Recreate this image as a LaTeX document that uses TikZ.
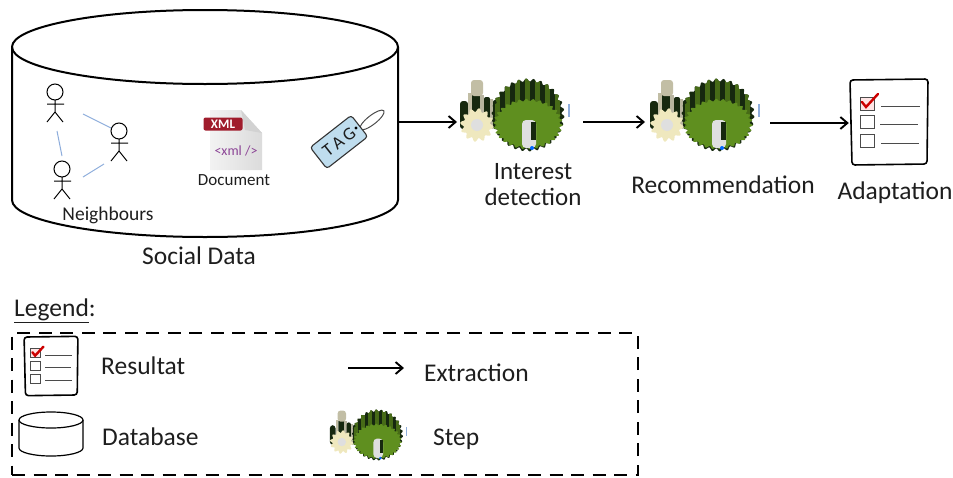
\documentclass[tikz,border=0pt]{standalone}
\usepackage{fontspec}
\usetikzlibrary{arrows.meta}
\setmainfont{Carlito}
\definecolor{ink}{HTML}{1E1E1E}
\definecolor{gearleaf}{HTML}{5F8F1F}
\definecolor{geardark}{HTML}{16280F}
\definecolor{gearbeige}{HTML}{EFE8BE}
\definecolor{badge}{HTML}{A01C2C}
\definecolor{tagblue}{HTML}{BFDDEE}
\definecolor{linkblue}{HTML}{8FAEDC}
\tikzset{
  lbl/.style={font=\fontsize{25.5}{28}\selectfont,text=ink,inner sep=0pt},
  legendlbl/.style={lbl,anchor=west},
  smalllbl/.style={font=\fontsize{19.5}{22}\selectfont,text=ink,inner sep=0pt},
  flow/.style={draw=black,line width=1.9pt,-{Straight Barb[length=7pt,width=12pt,line width=1.9pt]}},
  dbline/.style={draw=black,line width=2pt},
  anchorbox/.style={inner sep=0pt,minimum width=#1,draw=none},
  link/.style={draw=linkblue,line width=1pt},
  person/.style={draw=black,line width=1pt},
  pics/checklist/.style={code={
    \draw[black,line width=1.6pt,rounded corners=3pt,fill=white] (-39,-42) -- (39,-43) -- (38,42) -- (-37,43) -- cycle;
    \draw[line width=1pt,draw=ink!80,fill=red!10] (-29,-25) rectangle (-15,-12);
    \draw[line width=1pt,draw=ink!80] (-29,-7) rectangle (-15,6);
    \draw[line width=1pt,draw=ink!80] (-29,12) rectangle (-15,25);
    \draw[line width=.8pt,draw=ink!80] (-8,-16) -- (31,-16) (-9,2) -- (29,2) (-8,21) -- (30,21);
    \draw[draw=red!80!black,line width=2.4pt,line cap=round] (-27,-20) -- (-23,-15) -- (-11,-28);
  }},
  pics/gearicon/.style={code={
    % left stack of dark stripes
    \fill[geardark,rounded corners=3pt] (-53,-14) rectangle (-45,14);
    \fill[gearbeige!60!gray] (-45,-22) rectangle (-41,14);
    \fill[geardark,rounded corners=2pt] (-41,-22) rectangle (-33,14);
    \fill[gearbeige!60!gray,rounded corners=3pt] (-42,-35) rectangle (-30,-19);
    \fill[gearbeige!50!gray] (-33,-20) rectangle (-29,14);
    \fill[geardark,rounded corners=2pt] (-29,-18) rectangle (-23,14);
    \fill[gearbeige!50!gray] (-23,-16) rectangle (-20,14);
    \fill[geardark,rounded corners=2pt] (-20,-15) rectangle (-14,14);
    % rear dark gear
    \begin{scope}[shift={(15,0)}]
      \fill[geardark] plot[domain=0:360,samples=240,smooth] ({\x}:{35+1.5*sin(30*\x)}) -- cycle;
      \begin{scope}
        \clip plot[domain=0:360,samples=240,smooth] ({\x}:{35+1.5*sin(30*\x)}) -- cycle;
        \foreach \dx in {-30,-20,-10,0,10,20,30}
          \fill[gearleaf!75!black] (\dx-3,-38) rectangle (\dx+2,12);
      \end{scope}
    \end{scope}
    % small beige gear
    \begin{scope}[shift={(-36,10)}]
      \fill[gearbeige] plot[domain=0:360,samples=160,smooth] ({\x}:{15+1.8*sin(12*\x)}) -- cycle;
      \fill[gray!25] (0,0) circle (6);
    \end{scope}
    % front green gear
    \begin{scope}[shift={(15,9)}]
      \fill[gearleaf] plot[domain=0:360,samples=240,smooth] ({\x}:{33+1.7*sin(30*\x)} and {24+1.2*sin(30*\x)}) -- cycle;
      \fill[gray!25,rounded corners=4pt] (-6,-4) rectangle (8,24);
      \fill[geardark] (3,-2) rectangle (8,16);
      \fill[blue!60!cyan] (4,24) circle (2);
    \end{scope}
    \fill[linkblue] (55,-11) rectangle (56.5,2);
  }},
}
\newcommand{\stick}[1]{%
  \draw[person] (#1) ++(0,-12) circle (8) ++(0,8) -- ++(0,12) ++(-8,-8) -- ++(17,0)
    ++(-9,8) -- ++(-8,10) ++(8,-10) -- ++(8,10);}
\begin{document}
\begin{tikzpicture}[x=1pt,y=-1pt]
\useasboundingbox (0,0) rectangle (953,477);

% database
\node[anchorbox=386pt,minimum height=227pt] (db) at (205,123.5) {};
\draw[dbline] (12,47) arc[x radius=193,y radius=37,start angle=180,end angle=-180];
\draw[dbline] (12,47) -- (12,200) arc[x radius=193,y radius=37,start angle=180,end angle=0] -- (398,47);

% people
\coordinate (p1) at (55,104);
\coordinate (p2) at (119,143);
\coordinate (p3) at (62,181);
\stick{p1}\stick{p2}\stick{p3}
\coordinate (a1) at (83,114); \coordinate (a2) at (111,128);
\coordinate (b1) at (57,131); \coordinate (b2) at (62,156);
\coordinate (c1) at (83,177); \coordinate (c2) at (104,164);
\draw[link] (a1) -- (a2);
\draw[link] (b1) -- (b2);
\draw[link] (c1) -- (c2);
\node[smalllbl] (neigh) at (108,215) {Neighbours};

% document
\path[left color=gray!10,right color=gray!28] (210,110) -- (241,110) -- (262,133) -- (262,170) -- (210,170) -- cycle;
\fill[gray!35] (241,110) -- (262,133) -- (245,130) -- cycle;
\node[fill=badge,rounded corners=2pt,text=white,font=\bfseries\fontsize{13}{13}\selectfont,minimum width=39pt,minimum height=13pt,inner sep=0pt] (xml) at (223,124) {XML};
\node[text=magenta!45!blue!70!gray,font=\fontsize{14}{14}\selectfont,inner sep=0pt] (xmltag) at (236,151) {<xml />};
\node[font=\fontsize{17}{18}\selectfont,text=ink,inner sep=0pt] (doc) at (234,180) {Document};

% tag
\draw[draw=gray!60!black,line width=1pt,rotate around={38:(372,120)}] (372,120) ellipse (15 and 4.5);
\node[draw=gray!40!black,fill=tagblue,line width=1.1pt,rounded corners=3pt,rotate=38,minimum width=52pt,minimum height=27pt,inner sep=0pt,font=\fontsize{18}{18}\selectfont,text=ink] (tag) at (339,142) {T\,A\,G\hspace{6pt}};
\fill[black] (356,128) circle (1.7);

% step icons
\node[anchorbox=110pt,minimum height=70pt] (g1) at (513,115) {};
\node[anchorbox=110pt,minimum height=70pt] (g2) at (703,115) {};
\pic at (513,115) {gearicon};
\pic at (703,115) {gearicon};
\node[anchorbox=80pt,minimum height=86pt] (chk) at (889,122) {};
\pic at (889,122) {checklist};

\node[lbl,align=center,font=\fontsize{25}{26}\selectfont] (interest) at (533,185) {Interest\\detection};
\node[lbl] (rec) at (723,185) {Recommendation};
\node[lbl] (adapt) at (895,193) {Adaptation};
\node[lbl] (social) at (199,256) {Social Data};

\coordinate (ar1) at (457,122);
\coordinate (ar2a) at (583,122);
\coordinate (ar2b) at (645,122);
\coordinate (ar3a) at (770,123);
\draw[flow] (db.east |- ar1) -- (ar1);
\draw[flow] (ar2a) -- (ar2b);
\draw[flow] (ar3a) -- (chk.west |- ar3a);

% legend
\node[lbl,anchor=west] (legendtitle) at (14,311) {\underline{Legend}:};
\node[draw=black,dashed,dash pattern=on 13pt off 8.5pt,line width=2.4pt,minimum width=626pt,minimum height=142pt,inner sep=0pt] (legendbox) at (325,404) {};
\pic[scale=0.69] at (51,366) {checklist};
\draw[black,line width=1.2pt] (19,420) arc[x radius=32,y radius=8,start angle=180,end angle=-180];
\draw[black,line width=1.2pt] (19,420) -- (19,448) arc[x radius=32,y radius=8,start angle=180,end angle=0] -- (83,420);
\node[legendlbl] (lres) at (101,366) {Resultat};
\node[legendlbl] (ldb) at (102,437) {Database};
\coordinate (la) at (348,368);
\coordinate (lb) at (404,368);
\draw[flow] (la) -- (lb);
\node[legendlbl] (lext) at (424,373) {Extraction};
\pic[scale=0.7] at (367,435) {gearicon};
\node[legendlbl] (lstep) at (433,439) {Step};
\end{tikzpicture}
\end{document}
